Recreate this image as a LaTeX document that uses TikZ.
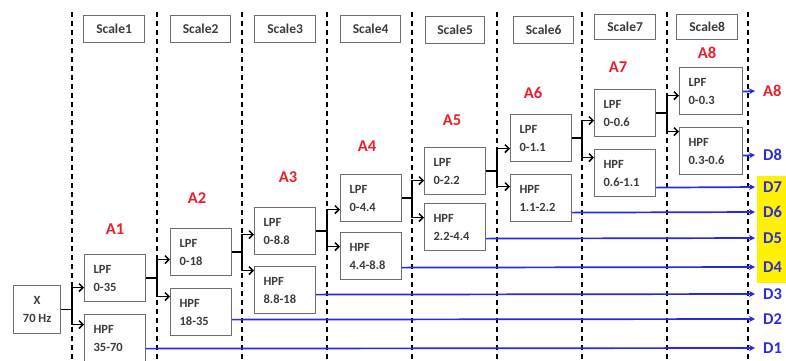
\documentclass[tikz,border=0pt]{standalone}
\usepackage{fontspec}
\setmainfont{Carlito}
\usetikzlibrary{arrows.meta}
\definecolor{boxgray}{RGB}{110,110,110}
\definecolor{txtgray}{RGB}{60,60,60}
\definecolor{lblred}{RGB}{235,30,45}
\definecolor{lblblue}{RGB}{45,45,215}
\definecolor{lineblue}{RGB}{40,40,235}
\begin{document}
\begin{tikzpicture}[x=1pt,y=-1pt,
  fbox/.style={draw=boxgray, line width=1.2pt, anchor=north west, text width=43pt,
    inner xsep=9pt, inner ysep=0pt, minimum height=47pt, align=left,
    font=\fontsize{12.5}{18}\selectfont\bfseries, text=txtgray},
  xbox/.style={draw=boxgray, line width=1.2pt, anchor=north west, minimum width=47pt,
    minimum height=48pt, inner sep=0pt, align=center,
    font=\fontsize{12.5}{18}\selectfont\bfseries, text=txtgray},
  sbox/.style={draw=boxgray, line width=1.2pt, anchor=north west, minimum width=61pt,
    minimum height=27pt, inner sep=0pt, font=\fontsize{13.5}{15}\selectfont\bfseries, text=txtgray},
  alabel/.style={inner sep=0pt, text=lblred, font=\fontsize{16.5}{18}\selectfont\bfseries},
  olabel/.style={inner sep=0pt, anchor=west, font=\fontsize{16.5}{18}\selectfont\bfseries},
  dline/.style={black, line width=1.6pt, dash pattern=on 5pt off 4pt},
  tree/.style={black, line width=1.5pt},
  tarrow/.style={tree, -{Straight Barb[length=4pt,width=8pt]}},
  bline/.style={lineblue, line width=1.7pt, -{Stealth[length=6pt,width=6pt]}}
]
\useasboundingbox (0,0) rectangle (786,360);

% dashed scale separators
\foreach \i/\x in {1/72,2/157,3/242,4/327,5/412,6/497,7/582,8/667,9/748}{
  \coordinate (v\i) at (\x,12);
  \coordinate (w\i) at (\x,360);
  \draw[dline] (v\i) -- (w\i);
}

% yellow highlight
\node[fill=yellow, anchor=north west, minimum width=29pt, minimum height=107pt, inner sep=0pt] (yel) at (757,176) {};

% scale headers
\node[sbox] (S1) at (83,15) {Scale1};
\node[sbox, minimum width=60pt] (S2) at (170,15) {Scale2};
\node[sbox] (S3) at (254,15) {Scale3};
\node[sbox, minimum width=60pt] (S4) at (340,15) {Scale4};
\node[sbox, minimum width=59pt] (S5) at (425,16) {Scale5};
\node[sbox, minimum width=60pt] (S6) at (513,16) {Scale6};
\node[sbox, minimum height=25pt] (S7) at (594,14) {Scale7};
\node[sbox, minimum height=25pt] (S8) at (676,14) {Scale8};

% input
\node[xbox] (X) at (13,285) {X\\70 Hz};

% filter boxes
\node[fbox] (L1) at (84,254) {LPF\\0-35};
\node[fbox] (H1) at (84,314) {HPF\\35-70};
\node[fbox] (L2) at (170,228) {LPF\\0-18};
\node[fbox] (H2) at (170,288) {HPF\\18-35};
\node[fbox] (L3) at (254,207) {LPF\\0-8.8};
\node[fbox] (H3) at (254,266) {HPF\\8.8-18};
\node[fbox] (L4) at (340,174) {LPF\\0-4.4};
\node[fbox] (H4) at (340,232) {HPF\\4.4-8.8};
\node[fbox] (L5) at (424,147) {LPF\\0-2.2};
\node[fbox] (H5) at (424,203) {HPF\\2.2-4.4};
\node[fbox] (L6) at (510,114) {LPF\\0-1.1};
\node[fbox] (H6) at (510,174) {HPF\\1.1-2.2};
\node[fbox] (L7) at (594,89) {LPF\\0-0.6};
\node[fbox] (H7) at (594,149) {HPF\\0.6-1.1};
\node[fbox, text width=45pt] (L8) at (679,67) {LPF\\0-0.3};
\node[fbox, text width=45pt] (H8) at (679,127) {HPF\\0.3-0.6};

% approximation labels
\node[alabel] (A1) at (115,229) {A1};
\node[alabel] (A2) at (197,198) {A2};
\node[alabel] (A3) at (288,177) {A3};
\node[alabel] (A4) at (367,146) {A4};
\node[alabel] (A5) at (452,120) {A5};
\node[alabel] (A6) at (533,93) {A6};
\node[alabel] (A7) at (618,67) {A7};
\node[alabel] (A8) at (707,53) {A8};

% tree connectors
\draw[tree] (X.east) -- (X.east -| v1) coordinate (s1);
\draw[tarrow] (s1) |- ([yshift=-9.5pt]L1.west);
\draw[tarrow] (s1) |- ([yshift=13.5pt]H1.west);
\draw[tree] (L1.east) -- (L1.east -| v2) coordinate (s2);
\draw[tarrow] (s2) |- ([yshift=-7.5pt]L2.west);
\draw[tarrow] (s2) |- ([yshift=15.5pt]H2.west);
\draw[tree] (L2.east) -- (L2.east -| v3) coordinate (s3);
\draw[tarrow] (s3) |- ([yshift=-3.5pt]L3.west);
\draw[tarrow] (s3) |- ([yshift=19.5pt]H3.west);
\draw[tree] (L3.east) -- (L3.east -| v4) coordinate (s4);
\draw[tarrow] (s4) |- ([yshift=-11.5pt]L4.west);
\draw[tarrow] (s4) |- ([yshift=9.5pt]H4.west);
\draw[tree] (L4.east) -- (L4.east -| v5) coordinate (s5);
\draw[tarrow] (s5) |- ([yshift=-9.5pt]L5.west);
\draw[tarrow] (s5) |- ([yshift=9.5pt]H5.west);
\draw[tree] (L5.east) -- (L5.east -| v6) coordinate (s6);
\draw[tarrow] (s6) |- ([yshift=-10.5pt]L6.west);
\draw[tarrow] (s6) |- ([yshift=11.5pt]H6.west);
\draw[tree] (L6.east) -- (L6.east -| v7) coordinate (s7);
\draw[tarrow] (s7) |- ([yshift=-7.5pt]L7.west);
\draw[tarrow] (s7) |- ([yshift=15.5pt]H7.west);
\draw[tree] (L7.east) -- (L7.east -| v8) coordinate (s8);
\draw[tarrow] (s8) |- ([yshift=-4.5pt]L8.west);
\draw[tarrow] (s8) |- ([yshift=19.5pt]H8.west);

% output labels
\node[olabel, text=lblred] (oA8) at (763,91) {A8};
\node[olabel, text=lblblue] (D8) at (763,155) {D8};
\node[olabel, text=lblblue] (D7) at (763,187) {D7};
\node[olabel, text=lblblue] (D6) at (763,212) {D6};
\node[olabel, text=lblblue] (D5) at (763,238) {D5};
\node[olabel, text=lblblue] (D4) at (763,267) {D4};
\node[olabel, text=lblblue] (D3) at (763,294) {D3};
\node[olabel, text=lblblue] (D2) at (763,319) {D2};
\node[olabel, text=lblblue] (D1) at (763,348) {D1};

% output connectors
\draw[bline] ([yshift=-0.5pt]L8.east) -- ([xshift=-8pt]oA8.west);
\draw[bline] ([yshift=-4.5pt]H8.east) -- ([xshift=-8pt]D8.west);
\draw[bline] ([yshift=-14.5pt]H7.east) -- ([xshift=-8pt]D7.west);
\draw[bline] ([yshift=-14.5pt]H6.east) -- ([xshift=-8pt]D6.west);
\draw[bline] ([yshift=-11.5pt]H5.east) -- ([xshift=-8pt]D5.west);
\draw[bline] ([yshift=-11.5pt]H4.east) -- ([xshift=-8pt]D4.west);
\draw[bline] ([yshift=-4.5pt]H3.east) -- ([xshift=-8pt]D3.west);
\draw[bline] ([yshift=-7.5pt]H2.east) -- ([xshift=-8pt]D2.west);
\draw[bline] ([yshift=-10.5pt]H1.east) -- ([xshift=-8pt]D1.west);
\end{tikzpicture}
\end{document}
